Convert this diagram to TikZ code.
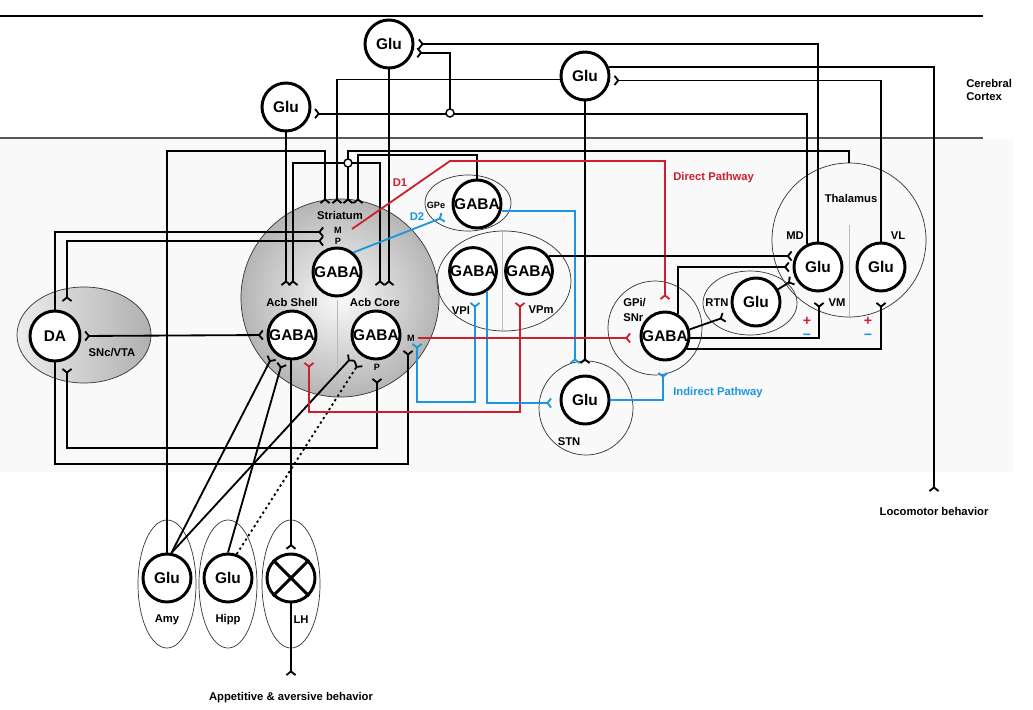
\documentclass[tikz,border=0pt]{standalone}
\usepackage{fontspec}
\setmainfont{Liberation Sans}
\usepackage{xcolor}
\usepackage{tikz}
\usetikzlibrary{arrows.meta,shapes.geometric,calc}

\definecolor{dred}{RGB}{204,32,48}
\definecolor{dblue}{RGB}{30,150,222}

\begin{document}
\begin{tikzpicture}[
  x=0.025cm, y=-0.025cm,
  neuron/.style={draw, circle, line width=2.1pt, fill=white, minimum size=1.2cm, inner sep=0pt, font=\fontsize{11}{12}\selectfont\bfseries},
  region/.style={draw=black!80, line width=0.5pt, inner sep=0pt},
  lbl/.style={font=\fontsize{8}{9}\selectfont\bfseries, inner sep=0pt},
  small/.style={font=\fontsize{6.5}{7}\selectfont\bfseries, inner sep=0pt},
  sign/.style={font=\fontsize{10}{10}\selectfont\bfseries, inner sep=0pt},
  wire/.style={line width=1.3pt},
  syn/.style={wire, -{Straight Barb[reversed,length=2.6pt,width=6.5pt]}},
  synboth/.style={wire, {Straight Barb[reversed,length=2.6pt,width=6.5pt]}-{Straight Barb[reversed,length=2.6pt,width=6.5pt]}},
  junct/.style={draw, circle, line width=1pt, minimum size=0.2cm, inner sep=0pt},
  divider/.style={draw=gray!55, line width=0.6pt}
]
\useasboundingbox (0,0) rectangle (1033,710);
\fill[gray!5] (0,139) rectangle (1013,472);
\draw[line width=0.8pt] (0,16) -- (983,16);
\draw[gray!70!black, line width=0.8pt] (0,138) -- (983,138);

% regions
\node[region, ellipse, minimum width=3.35cm, minimum height=2.4cm, left color=gray!15, right color=gray!62] (snc) at (84,335) {};
\node[region, circle, minimum size=4.95cm, inner color=gray!4, outer color=gray!58] (str) at (340,298) {};
\node[region, ellipse, minimum width=2.15cm, minimum height=1.4cm] (gpe) at (468,203) {};
\node[region, ellipse, minimum width=3.35cm, minimum height=2.5cm] (vp) at (504,281) {};
\node[region, circle, minimum size=2.35cm] (gpi) at (655,328) {};
\node[region, ellipse, minimum width=2.35cm, minimum height=1.6cm] (rtn) at (750,303) {};
\node[region, circle, minimum size=3.85cm] (thal) at (849,240) {};
\node[region, circle, minimum size=2.35cm] (stn) at (586,408) {};
\node[region, ellipse, minimum width=1.45cm, minimum height=3.2cm] (amy) at (167,584) {};
\node[region, ellipse, minimum width=1.45cm, minimum height=3.2cm] (hipp) at (228,584) {};
\node[region, ellipse, minimum width=1.45cm, minimum height=3.2cm] (lhr) at (291,584) {};
\draw[divider] (337,300) -- (337,397);
\draw[divider] (502,232) -- (502,330);
\draw[divider] (849,225) -- (849,317);

% neurons
\node[neuron] (gla) at (389,44) {Glu};
\node[neuron] (glb) at (585,76) {Glu};
\node[neuron] (glc) at (286,107) {Glu};
\node[neuron, minimum size=1.25cm] (dag) at (55,336) {DA};
\node[neuron] (sg) at (337,272) {GABA};
\node[neuron] (shg) at (292,335) {GABA};
\node[neuron] (cog) at (376,335) {GABA};
\node[neuron] (gpg) at (477,204) {GABA};
\node[neuron, minimum size=1.15cm] (vplg) at (473,271) {GABA};
\node[neuron, minimum size=1.15cm] (vpmg) at (529,271) {GABA};
\node[neuron] (gpig) at (665,336) {GABA};
\node[neuron] (rtng) at (756,302) {Glu};
\node[neuron] (mdg) at (818,267) {Glu};
\node[neuron] (vlg) at (881,267) {Glu};
\node[neuron] (stng) at (585,400) {Glu};
\node[neuron] (amg) at (167,578) {Glu};
\node[neuron] (hpg) at (228,578) {Glu};
\node[neuron] (lh) at (291,578) {};
\draw[line width=2.1pt] (lh.north west) -- (lh.south east);
\draw[line width=2.1pt] (lh.north east) -- (lh.south west);

% labels
\node[lbl, anchor=west] (ctxa) at (966,83) {Cerebral};
\node[lbl, anchor=west] (ctxb) at (966,97) {Cortex};
\node[lbl] (strl) at (340,215) {Striatum};
\node[small] (ml) at (338,230) {M};
\node[small] (pl) at (338,241) {P};
\node[lbl, text=dred] (dl1) at (400,183) {D1};
\node[lbl, text=dblue] (dl2) at (417,217) {D2};
\node[small] (gpel) at (436,205) {GPe};
\node[lbl] (shl) at (292,302) {Acb Shell};
\node[lbl] (col) at (375,302) {Acb Core};
\node[small] (cml) at (411,338) {M};
\node[small] (cpl) at (377,367) {P};
\node[lbl] (vpll) at (461,310) {VPl};
\node[lbl] (vpml) at (541,310) {VPm};
\node[lbl, anchor=west] (gpil) at (623,303) {GPi/};
\node[lbl, anchor=west] (snrl) at (623,318) {SNr};
\node[lbl] (rtnl) at (717,303) {RTN};
\node[lbl] (thl) at (851,198) {Thalamus};
\node[lbl] (mdl) at (795,236) {MD};
\node[lbl] (vll) at (898,236) {VL};
\node[lbl] (vml) at (837,303) {VM};
\node[lbl] (sncl) at (112,353) {SNc/VTA};
\node[lbl] (stnl) at (569,442) {STN};
\node[lbl] (amyl) at (167,620) {Amy};
\node[lbl] (hipl) at (228,620) {Hipp};
\node[lbl] (lhl) at (301,620) {LH};
\node[lbl] (appl) at (291,698) {Appetitive \& aversive behavior};
\node[lbl] (locl) at (934,511) {Locomotor behavior};
\node[lbl, text=dred, anchor=west] (dirl) at (673,178) {Direct Pathway};
\node[lbl, text=dblue, anchor=west] (indl) at (673,393) {Indirect Pathway};
\node[sign, text=dred] (pa) at (807,321) {+};
\node[sign, text=dblue] (ma) at (807,337) {−};
\node[sign, text=dred] (pb) at (868,321) {+};
\node[sign, text=dblue] (mb) at (868,337) {−};

% terminals
\coordinate (sta) at (325,204);
\coordinate (stb) at (337,204);
\coordinate (stc) at (348,204);
\coordinate (std) at (358,204);
\coordinate (stm) at (324,232);
\coordinate (stp) at (324,241);
\coordinate (sha) at (286,286);
\coordinate (shb) at (293,286);
\coordinate (coa) at (380,286);
\coordinate (cob) at (389,286);
\coordinate (shc) at (272,357);
\coordinate (shd) at (282,363);
\coordinate (shr) at (309,362);
\coordinate (coc) at (352,357);
\coordinate (cod) at (359,363);
\coordinate (cop) at (377,378);
\coordinate (com) at (408,350);
\coordinate (cobl) at (417,343);
\coordinate (cor) at (418,338);
\coordinate (dos) at (352,229);
\coordinate (dok) at (450,161);
\coordinate (gpd) at (444,217);
\coordinate (ja) at (450,113);
\coordinate (jb) at (348,163);
\coordinate (dat) at (67,302);
\coordinate (dab) at (67,368);
\coordinate (vpla) at (475,302);
\coordinate (vpma) at (520,302);
\coordinate (stna) at (575,364);
\coordinate (stnb) at (585,364);
\coordinate (stnw) at (552,403);
\coordinate (gpt) at (665,300);
\coordinate (gpb) at (663,372);
\coordinate (gpl) at (631,338);
\coordinate (rtnf) at (725,317);
\coordinate (vmf) at (819,302);
\coordinate (vlf) at (881,302);
\coordinate (loc) at (934,492);
\coordinate (appf) at (291,676);

% cortical loops
\draw[syn, shorten >=2.5pt] (mdg.north) |- (gla.east);
\draw[syn, shorten >=2.5pt] (mdg.115) |- (glc.-15);
\draw[syn, shorten >=2.5pt] (ja) |- (gla.-20);
\node[junct, fill=white] (jan) at (ja) {};
\draw[syn] (glb.188) -| (stb);
\draw[syn] (glb.south) -- (stnb);
\draw[syn] (glb.20) -| (loc);
\draw[syn, shorten >=2.5pt] (vlg.north) |- (glb.-10);
\draw[syn] (glc.south) -- (sha);
\draw[syn] (gla.south) -- (cob);
\draw[syn] (thal.north) -- (thal.north |- 0,151) -| (stc);
\draw[syn] (jb) -| (shb);
\draw[syn] (jb) -| (coa);
\node[junct, fill=gray!5] (jbn) at (jb) {};
\draw[syn] (gpg.north) -- (gpg.north |- 0,155) -| (std);

% limbic inputs
\draw[syn] (amg.north) -- (amg.north |- 0,151) -| (sta);
\draw[syn] (amg.80) -- (shc);
\draw[syn] (amg.80) -- (coc);
\draw[syn] (hpg.north) -- (shd);
\draw[syn, dash pattern=on 1.6pt off 2.2pt] (hpg.70) -- (cod);
\draw[syn, shorten >=2pt] (lh.north |- shg.south) -- (lh.north);
\draw[syn] (lh.south) -- (appf);

% dopamine
\draw[syn] (dag.north) |- (stm);
\draw[synboth] (stp) -| (dat);
\draw[synboth, shorten <=2pt, shorten >=2pt] (dag.east) -- (shg.west);
\draw[syn] (dag.south) -- (dag.south |- 0,464) -| (com);
\draw[synboth] (dab) -- (dab |- 0,448) -| (cop);

% basal ganglia
\draw[syn, dred] (dos) -- (dok) -| (gpt);
\draw[syn, dblue] (sg.50) -- (gpd);
\draw[syn, dblue] (gpg.-15) -| (stna);
\draw[synboth, dred] (vpma) -- (vpma |- 0,412) -| (shr);
\draw[synboth, dblue] (vpla) -- (vpla |- 0,402) -| (cobl);
\draw[syn, dblue] (vplg.-55) |- (stnw);
\draw[syn, dred] (cor) -- (gpl);
\draw[syn, dblue] (stng.east) -| (gpb);
\draw[syn, shorten >=2pt] (vpmg.37) -- (vpmg.37 -| mdg.153);
\draw[syn, shorten >=2pt] (gpig.60) |- (mdg.west);
\draw[syn] (gpig.15) -- (rtnf);
\draw[syn, shorten >=2pt] (rtng.30) -- (mdg.207);
\draw[syn] (gpig.-5) -| (vmf);
\draw[syn] (gpig.-30) -| (vlf);
\end{tikzpicture}
\end{document}
